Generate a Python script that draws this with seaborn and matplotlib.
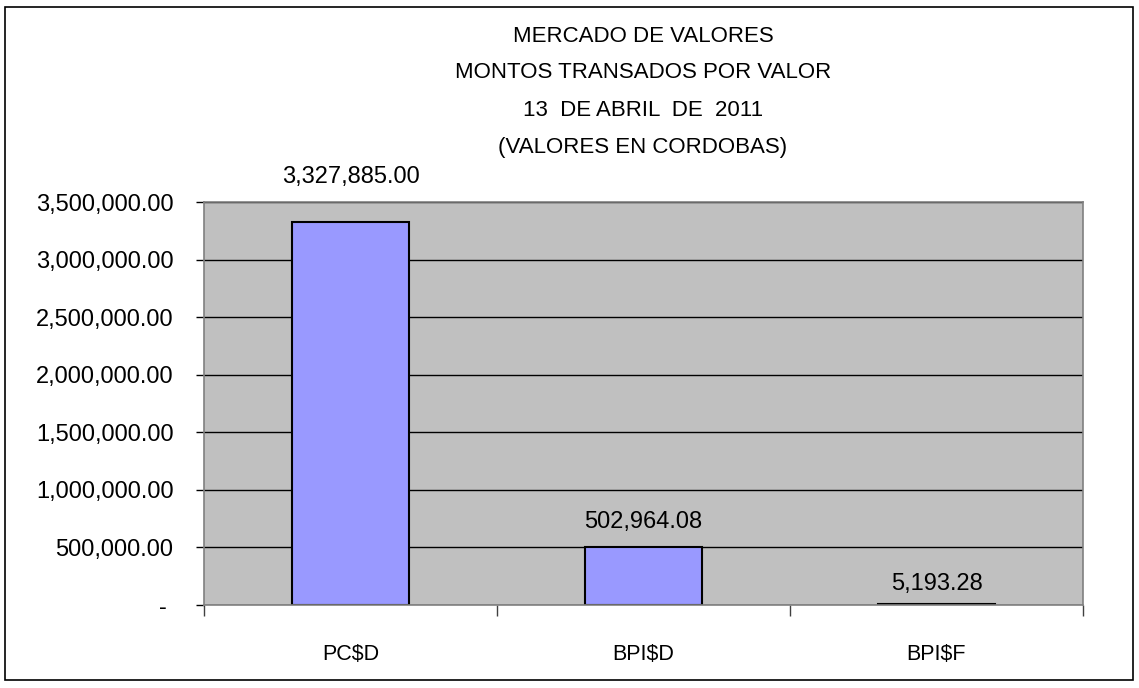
import matplotlib
matplotlib.use("Agg")
import matplotlib.pyplot as plt
import matplotlib.patches as mpatches
from matplotlib.ticker import FuncFormatter, FixedLocator
import seaborn as sns
import pandas as pd

# Data
categories = ["PC$D", "BPI$D", "BPI$F"]
montos = [3327885.00, 502964.08, 5193.28]
title_lines = [
    "MERCADO DE VALORES",
    "MONTOS TRANSADOS POR VALOR",
    "13  DE ABRIL  DE  2011",
    "(VALORES EN CORDOBAS)",
]
y_ticks = [0, 500000, 1000000, 1500000, 2000000, 2500000, 3000000, 3500000]

sns.set_style("white")
plt.rcParams["font.family"] = ["Liberation Sans", "DejaVu Sans"]
plt.rcParams["text.color"] = "black"
plt.rcParams["xtick.labelcolor"] = "black"
plt.rcParams["ytick.labelcolor"] = "black"

df = pd.DataFrame({"valor": categories, "monto": montos})

fig = plt.figure(figsize=(11.39, 6.88), dpi=100)
ax = fig.add_axes([204 / 1139, 1 - 605 / 688, (1083 - 204) / 1139, (605 - 202) / 688])

sns.barplot(data=df, x="valor", y="monto", ax=ax, color="#9999FF",
            saturation=1, edgecolor="black", linewidth=1.5, width=0.4, zorder=3)

ax.set_facecolor("#C0C0C0")
ax.set_ylim(0, 3500000)
ax.set_xlim(-0.5, 2.5)
ax.set_yticks(y_ticks)
ax.yaxis.set_major_formatter(FuncFormatter(lambda v, p: "- " if v == 0 else f"{v:,.2f}"))
ax.grid(axis="y", color="black", linewidth=1, zorder=1)
ax.set_axisbelow(True)
ax.tick_params(axis="y", length=6, width=1, color="black", pad=16, labelsize=17,
               labelcolor="black", left=True)
ax.tick_params(axis="x", which="major", length=0, pad=28, labelsize=15.5, labelcolor="black")
ax.xaxis.set_minor_locator(FixedLocator([-0.5, 0.5, 1.5, 2.5]))
ax.tick_params(axis="x", which="minor", length=8, width=1, color="#404040", bottom=True)
ax.set_xlabel("")
ax.set_ylabel("")
for s in ax.spines.values():
    s.set_visible(True)
    s.set_color("#808080")
    s.set_linewidth(1.2)
    s.set_zorder(4)

# data labels
label_offsets = [32, 18, 15]
for i, v in enumerate(montos):
    ax.annotate(f"{v:,.2f}", (i, v), xytext=(0, label_offsets[i]), textcoords="offset points",
                ha="center", va="center", fontsize=17, color="black", annotation_clip=False)

# title lines
title_y = [37, 73, 110, 147]
for line, yp in zip(title_lines, title_y):
    fig.text(643 / 1139, 1 - yp / 688, line, ha="center", va="center", fontsize=16, color="black")

# outer chart border
fig.patches.append(mpatches.Rectangle((5 / 1139, 1 - 680 / 688), 1128 / 1139, 673 / 688,
                                      transform=fig.transFigure, fill=False,
                                      edgecolor="black", linewidth=1.2))

fig.savefig("out.png", dpi=100)
